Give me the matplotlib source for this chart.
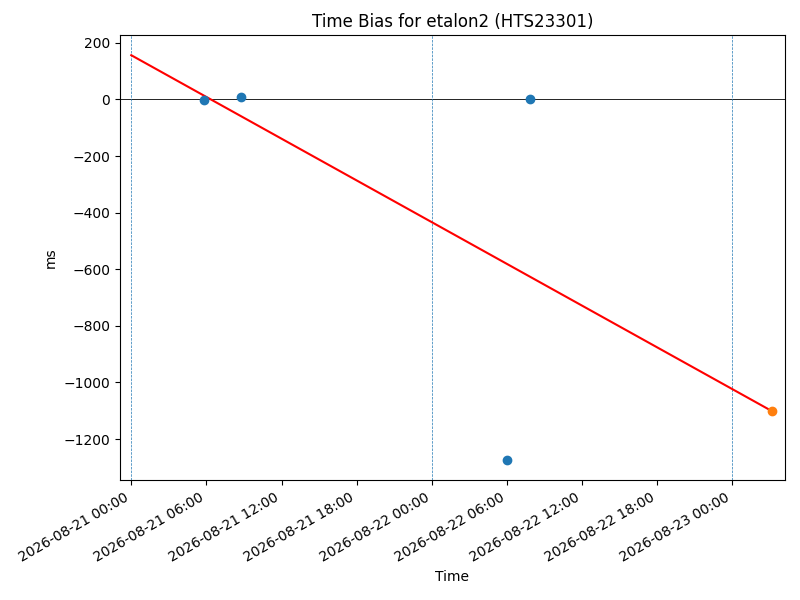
import matplotlib
matplotlib.use("Agg")
import matplotlib.pyplot as plt
import matplotlib.dates as mdates
import pandas as pd

title = "Time Bias for etalon2 (HTS23301)"
obs_times = ["2026-08-21 05:50", "2026-08-21 08:47", "2026-08-22 06:00", "2026-08-22 07:51"]
obs_values = [-3.5, 7, -1274, 2]
pred_time = ["2026-08-23 03:10"]
pred_value = [-1101]
fit_times = ["2026-08-21 00:00", "2026-08-23 03:10"]
fit_values = [156, -1101]
day_lines = ["2026-08-21 00:00", "2026-08-22 00:00", "2026-08-23 00:00"]
xlim = ["2026-08-20 23:06", "2026-08-23 04:12"]

obs_t = pd.to_datetime(obs_times)
pred_t = pd.to_datetime(pred_time)
fit_t = pd.to_datetime(fit_times)
day_t = pd.to_datetime(day_lines)

fig, ax = plt.subplots(figsize=(8, 6), dpi=100)
fig.subplots_adjust(left=0.15, right=0.981, top=0.9417, bottom=0.1995)

ax.axhline(0, color="black", lw=0.6)
for d in day_t:
    ax.axvline(d, color="C0", ls="--", lw=0.5)
ax.plot(fit_t, fit_values, color="red", lw=1.5)
ax.scatter(obs_t, obs_values, color="C0", zorder=3)
ax.scatter(pred_t, pred_value, color="C1", zorder=3)

ax.set_xlim(pd.to_datetime(xlim[0]), pd.to_datetime(xlim[1]))
ax.xaxis.set_major_locator(mdates.HourLocator(byhour=[0, 6, 12, 18]))
ax.xaxis.set_major_formatter(mdates.DateFormatter("%Y-%m-%d %H:%M"))
for lbl in ax.get_xticklabels():
    lbl.set_rotation(30)
    lbl.set_ha("right")

ax.set_title(title)
ax.set_xlabel("Time")
ax.set_ylabel("ms")

fig.savefig("out.png", dpi=100)
